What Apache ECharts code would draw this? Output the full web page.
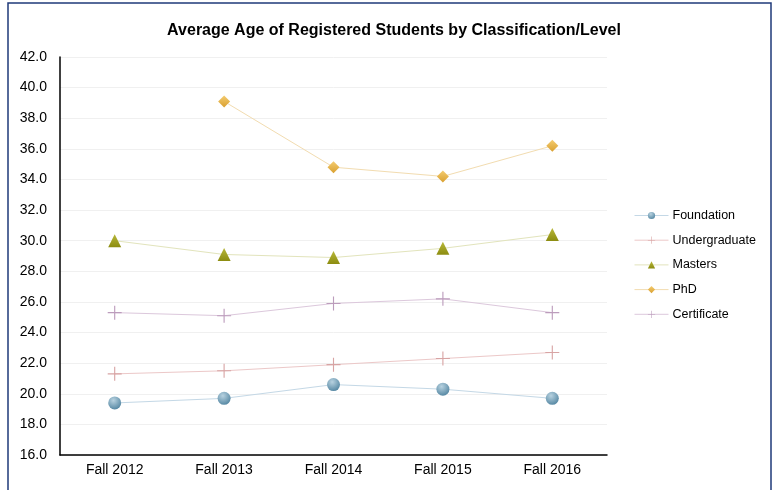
<!DOCTYPE html>
<html>
<head>
<meta charset="utf-8">
<script src="https://cdn.jsdelivr.net/npm/echarts@6/dist/echarts.min.js"></script>
<style>
  html, body { margin: 0; padding: 0; background: #fff; }
  #chart { width: 773px; height: 490px; }
</style>
</head>
<body>
<div id="chart"></div>
<script>
// Terms and average age per classification
const terms = ['Fall 2012', 'Fall 2013', 'Fall 2014', 'Fall 2015', 'Fall 2016'];
const foundation = [19.4, 19.7, 20.6, 20.3, 19.7];
const undergraduate = [21.3, 21.5, 21.9, 22.3, 22.7];
const masters = [30.0, 29.1, 28.9, 29.5, 30.4];
const phd = [null, 39.1, 34.8, 34.2, 36.2];
const certificate = [25.3, 25.1, 25.9, 26.2, 25.3];
const yTicks = { min: 16, max: 42, step: 2 };

const plus = 'path://M0,4.6H10V5.4H0Z M4.6,0H5.4V10H4.6Z';

function radial(light, dark) {
  return new echarts.graphic.RadialGradient(0.4, 0.3, 0.8, [
    { offset: 0, color: light }, { offset: 1, color: dark }
  ]);
}
function linear(light, dark) {
  return new echarts.graphic.LinearGradient(0, 0, 0, 1, [
    { offset: 0, color: light }, { offset: 1, color: dark }
  ]);
}

function series(name, data, lineColor, symbol, size, fill) {
  return {
    name, type: 'line', data,
    symbol, symbolSize: size,
    connectNulls: false,
    lineStyle: { color: lineColor, width: 1 },
    itemStyle: { color: fill },
    emphasis: { disabled: true }
  };
}

const chart = echarts.init(document.getElementById('chart'));
chart.setOption({
  animation: false,
  backgroundColor: '#fff',
  textStyle: { fontFamily: 'Liberation Sans, Arial, sans-serif' },
  title: {
    text: 'Average Age of Registered Students by Classification/Level',
    left: 389, top: 18, textAlign: 'center',
    textStyle: { fontSize: 16, fontWeight: 'bold', color: '#000' }
  },
  graphic: [{
    type: 'rect', silent: true,
    shape: { x: 8, y: 3, width: 763, height: 500 },
    style: { fill: 'none', stroke: '#1f3a7a', lineWidth: 1.5 }
  }],
  legend: {
    orient: 'vertical', left: 634, top: 209, padding: 0,
    itemWidth: 34, itemHeight: 9, itemGap: 11.7,
    textStyle: { fontSize: 12.5, color: '#000', padding: [0, 0, 0, -1] },
    lineStyle: { width: 1 },
    data: ['Foundation', 'Undergraduate', 'Masters', 'PhD', 'Certificate']
  },
  grid: { left: 60, right: 166, top: 57, bottom: 35, containLabel: false },
  xAxis: {
    type: 'category', data: terms, boundaryGap: true,
    axisLine: { lineStyle: { color: '#000', width: 1.5 } },
    axisTick: { show: false },
    axisLabel: { color: '#000', fontSize: 14, margin: 8 }
  },
  yAxis: {
    type: 'value', min: yTicks.min, max: yTicks.max, interval: yTicks.step,
    axisLine: { show: true, lineStyle: { color: '#000', width: 1.5 } },
    axisTick: { show: false },
    axisLabel: { color: '#000', fontSize: 14, margin: 13, formatter: v => v.toFixed(1) },
    splitLine: { lineStyle: { color: '#f0f0f0', width: 1 } }
  },
  series: [
    series('Foundation', foundation, '#c4d8e6', 'circle', 13, radial('#b8d2e0', '#4a7f9c')),
    series('Undergraduate', undergraduate, '#ecc8c8', plus, 14, '#d8a4a4'),
    series('Masters', masters, '#e2e4bc', 'triangle', 13, linear('#b8b83a', '#8c8c10')),
    series('PhD', phd, '#f2dcb0', 'diamond', 12, linear('#f4cc70', '#d9a030')),
    series('Certificate', certificate, '#dcc8dc', plus, 14, '#bc9cbc')
  ]
});
</script>
</body>
</html>
